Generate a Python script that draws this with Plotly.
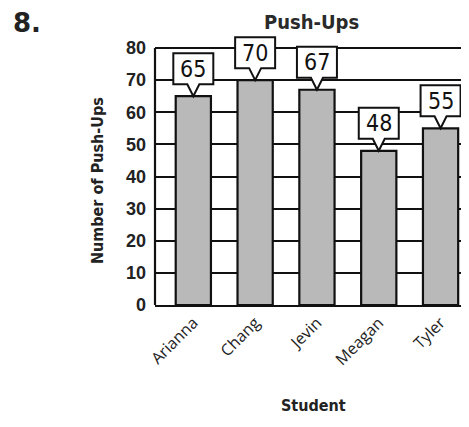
import plotly.graph_objects as go

students = ["Arianna", "Chang", "Jevin", "Meagan", "Tyler"]
pushups = [65, 70, 67, 48, 55]
y_ticks = [0, 10, 20, 30, 40, 50, 60, 70, 80]
y_max = 80

title_font = "DejaVu Sans Condensed, Liberation Sans Narrow, sans-serif"
num_font = "Liberation Sans Narrow, DejaVu Sans Condensed, Arial, sans-serif"

# page is offset by the browser's 8px body margin
OFF = 8
W, H = 469 - OFF, 427 - 2 * OFF
PLOT_BOTTOM = 305
ml, mr, mt = 155 - OFF, 0, 14
mb = (H + OFF) - PLOT_BOTTOM
pw, ph = W - ml - mr, H - mt - mb
px_per_unit = (PLOT_BOTTOM - 48) / y_max
y_top = ph / px_per_unit


def px(x, y):
    """page pixel -> paper coords"""
    return (x - OFF - ml) / pw, (H - (y - OFF) - mb) / ph


fig = go.Figure(go.Bar(
    x=students, y=pushups,
    marker=dict(color="#b9b9b9", line=dict(color="#111111", width=2.2)),
    width=0.57,
))

shapes = [
    dict(type="line", xref="x domain", yref="y", x0=0, x1=0, y0=0, y1=y_max,
         line=dict(color="#111111", width=2.2), layer="above"),
]
annotations = []
for s, v in zip(students, pushups):
    shapes.append(dict(
        type="path", xref="x", yref="y",
        xsizemode="pixel", ysizemode="pixel", xanchor=s, yanchor=v,
        path="M 0 0 L 6 12 L 20 12 L 20 43 L -20 43 L -20 12 L -6 12 Z",
        fillcolor="white", line=dict(color="#111111", width=2), layer="above",
    ))
    annotations.append(dict(
        x=s, y=v, xref="x", yref="y", text=str(v), showarrow=False,
        yshift=27.5, xanchor="center", yanchor="middle",
        font=dict(family=num_font, size=23, color="#111111"),
    ))


def txt(text, x, y, size, family, angle=0, anchor="center", yanchor="middle", color="#222"):
    ax, ay = px(x, y)
    return dict(text=text, x=ax, y=ay, xref="paper", yref="paper", showarrow=False,
                textangle=angle, xanchor=anchor, yanchor=yanchor,
                font=dict(family=family, size=size, color=color))


annotations += [
    txt("<b>8.</b>", 11, 23, 26, "DejaVu Sans, sans-serif", anchor="left"),
    txt("<b>Push-Ups</b>", 311, 8, 20, title_font, yanchor="top", color="#2a2a2a"),
    txt("<b>Number of Push-Ups</b>", 97, 181, 16, title_font, angle=-90),
    txt("<b>Student</b>", 313, 405, 16, title_font),
]

fig.update_layout(
    width=W, height=H,
    margin=dict(l=ml, r=mr, t=mt, b=mb),
    paper_bgcolor="#ffffff", plot_bgcolor="#ffffff",
    showlegend=False,
    shapes=shapes, annotations=annotations,
    xaxis=dict(
        range=[-0.62, 4.46], showgrid=False, showline=True, linecolor="#111111", linewidth=2.2,
        tickangle=-45, ticks="", tickfont=dict(family="Open Sans, sans-serif", size=16, color="#222"),
        fixedrange=True,
    ),
    yaxis=dict(
        range=[0, y_top], tickvals=y_ticks, showgrid=True, gridcolor="#111111", gridwidth=2,
        showline=False, zeroline=False, ticks="",
        ticklabelstandoff=8,
        tickfont=dict(family="Liberation Sans, Arial, sans-serif", size=18, color="#222", weight="bold"),
    ),
)
fig.write_html("out.html")
